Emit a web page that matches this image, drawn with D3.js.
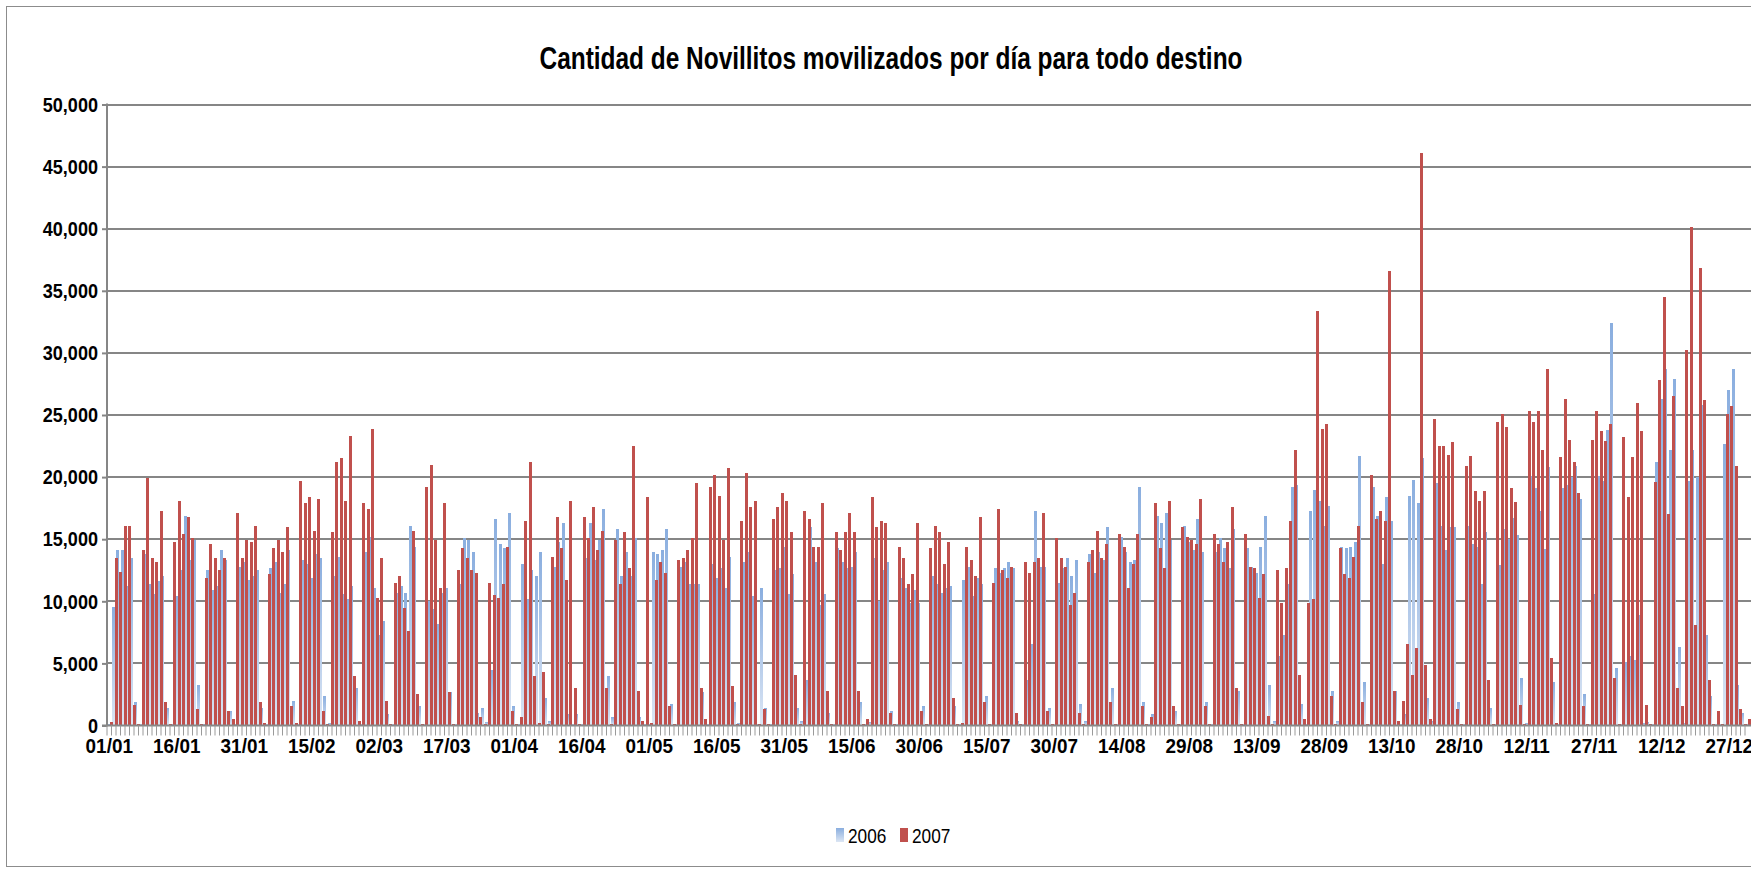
<!DOCTYPE html>
<html>
<head>
<meta charset="utf-8">
<script src="https://cdn.jsdelivr.net/npm/d3@7"></script>
<style>
  body { margin: 0; background: #fff; }
  svg { display: block; font-family: "Liberation Sans", Arial, sans-serif; }
</style>
</head>
<body>
<svg width="1751" height="871"></svg>
<script>
// etiquetas del eje X (una cada 15 dias)
const tickLabels = ["01/01","16/01","31/01","15/02","02/03","17/03","01/04","16/04","01/05","16/05",
  "31/05","15/06","30/06","15/07","30/07","14/08","29/08","13/09","28/09","13/10","28/10","12/11",
  "27/11","12/12","27/12"];
const yTicks = [0, 5000, 10000, 15000, 20000, 25000, 30000, 35000, 40000, 45000, 50000];
const seriesNames = ["2006", "2007"];

// cabezas por dia del año, una semana por linea
const v2006 = [
  100, 9550, 14100, 14100, 11200, 13500, 1900,
  150, 13800, 11400, 10600, 11600, 12000, 1400,
  100, 10400, 12500, 16900, 13300, 14900, 3300,
  100, 12500, 10900, 11200, 14100, 13300, 1200,
  150, 12800, 13150, 11700, 12000, 12500, 1400,
  150, 12700, 13150, 10700, 11400, 14100, 2000,
  150, 13300, 13000, 11900, 13800, 13500, 2400,
  200, 12000, 13600, 10600, 10200, 11200, 3000,
  150, 14000, 15200, 11100, 7300, 8400, 900,
  150, 10700, 11200, 10700, 16100, 14400, 1550,
  150, 10000, 9400, 8200, 10700, 11100, 2700,
  150, 11400, 15100, 14900, 14000, 1000, 1400,
  300, 4500, 16600, 14600, 14300, 17100, 1550,
  150, 13000, 10200, 12500, 12000, 14000, 2200,
  350, 12800, 14800, 16300, 900, 150, 900,
  150, 13500, 16300, 13300, 14900, 17400, 4000,
  650, 15800, 12000, 14000, 12000, 15100, 650,
  150, 150, 14000, 13800, 14100, 15800, 1700,
  150, 12800, 13150, 11400, 11400, 11400, 2700,
  150, 13000, 11900, 12700, 11100, 13600, 1900,
  200, 13150, 14000, 10400, 150, 11100, 1400,
  150, 12500, 12700, 14400, 10600, 12200, 1400,
  350, 3650, 16000, 13150, 9700, 10600, 1000,
  150, 14300, 13150, 12700, 12800, 14000, 1900,
  150, 300, 13500, 10000, 12500, 13150, 1200,
  150, 11900, 11100, 9900, 10900, 9900, 1550,
  150, 12000, 11400, 10700, 11100, 11200, 1550,
  150, 11700, 12800, 10400, 11900, 11400, 2400,
  150, 12700, 12300, 12700, 13150, 12700, 350,
  150, 3650, 6600, 17300, 12800, 12800, 1400,
  150, 11500, 12700, 13500, 12000, 13300, 1700,
  350, 13800, 12300, 14000, 13300, 16000, 3000,
  150, 15200, 14000, 13150, 13300, 19200, 1900,
  150, 900, 16900, 16300, 17100, 14900, 1200,
  150, 16100, 14800, 14100, 16600, 14000, 1900,
  150, 14000, 15100, 14300, 12700, 15800, 2800,
  150, 14300, 12800, 12300, 14400, 16900, 3300,
  350, 5600, 7300, 11400, 19200, 19400, 1700,
  150, 17300, 19000, 18100, 16100, 17700, 2800,
  350, 14400, 14300, 14400, 14800, 21700, 3500,
  150, 19200, 16900, 13000, 18400, 16500, 2800,
  150, 900, 18500, 19800, 17900, 21500, 2200,
  350, 19500, 16100, 14100, 16000, 16000, 1900,
  150, 16100, 14600, 14400, 11400, 15600, 1400,
  150, 12900, 15800, 15000, 16700, 15300, 3800,
  200, 20100, 19100, 17300, 14200, 20800, 3500,
  150, 19100, 19400, 20000, 20900, 18200, 2500,
  150, 10600, 20100, 19700, 23800, 32400, 4600,
  150, 5100, 5600, 5300, 8900, 200, 300,
  150, 21200, 26300, 28700, 22200, 27900, 6300,
  200, 19700, 22200, 20000, 25800, 7300, 2400,
  150, 150, 22700, 27000, 28700, 3300, 1000,
  150
];

const v2007 = [
  250, 13500, 12350, 16100, 16100, 1650, 150,
  14100, 19900, 13500, 13150, 17300, 1900, 150,
  14800, 18100, 15400, 16800, 15100, 1300, 150,
  11900, 14600, 13500, 12500, 13500, 1150, 500,
  17100, 13500, 14900, 14800, 16100, 1900, 200,
  12200, 14300, 14900, 14000, 16000, 1550, 200,
  19700, 17900, 18400, 15700, 18200, 1150, 150,
  15600, 21200, 21500, 18100, 23300, 4000, 350,
  17900, 17400, 23900, 10300, 13500, 2000, 150,
  11500, 12000, 9500, 7600, 15700, 2500, 150,
  19200, 21000, 14900, 11100, 17900, 2700, 150,
  12500, 14300, 13500, 12500, 12300, 650, 150,
  11500, 10500, 10300, 11400, 14400, 1150, 150,
  650, 16500, 21200, 4000, 200, 4300, 150,
  13600, 16800, 14300, 11700, 18100, 3000, 150,
  16800, 15100, 17600, 14100, 15700, 3000, 150,
  14900, 11400, 15600, 12700, 22500, 2800, 350,
  18400, 200, 11700, 13150, 12300, 1550, 150,
  13300, 13500, 14100, 15100, 19500, 3000, 500,
  19200, 20200, 18500, 14900, 20700, 3200, 150,
  16500, 20300, 17600, 18100, 150, 1300, 150,
  16600, 17600, 18700, 18100, 15600, 4100, 150,
  17300, 16600, 14400, 14400, 17900, 2800, 150,
  15600, 14100, 15600, 17100, 15600, 2800, 150,
  500, 18400, 16000, 16500, 16300, 1000, 150,
  14400, 13500, 11400, 12200, 16300, 1150, 150,
  14300, 16100, 15600, 13000, 14800, 2200, 150,
  200, 14400, 13300, 12000, 16800, 1900, 150,
  11500, 17400, 12500, 11900, 12800, 1000, 150,
  13150, 12300, 13150, 13500, 17100, 1150, 150,
  15100, 13500, 12800, 9700, 10700, 1000, 150,
  13150, 14100, 15700, 13500, 14600, 1900, 150,
  15400, 14400, 11100, 13000, 15400, 1550, 150,
  650, 17900, 14300, 12700, 18100, 1550, 150,
  16000, 15200, 14900, 14600, 18200, 1550, 150,
  15400, 14600, 13150, 14800, 17600, 3000, 150,
  15400, 12800, 12700, 10300, 12200, 800, 150,
  12500, 9900, 12700, 16500, 22200, 4100, 500,
  9900, 10200, 33400, 23900, 24300, 2400, 150,
  14300, 12200, 11900, 13600, 16100, 1900, 150,
  20200, 16600, 17300, 16500, 36600, 2800, 350,
  2000, 6600, 4100, 6200, 46100, 4900, 500,
  24700, 22500, 22500, 21800, 22800, 1300, 150,
  20900, 21700, 18900, 18100, 18900, 3700, 150,
  24400, 25100, 24000, 19100, 18000, 1650, 150,
  25300, 24400, 25300, 22200, 28700, 5400, 200,
  21600, 26300, 23000, 21200, 18700, 1600, 150,
  23000, 25300, 23700, 22900, 24300, 3800, 150,
  23200, 18400, 21600, 26000, 23700, 1650, 150,
  19600, 27800, 34500, 17000, 26500, 3000, 1600,
  30200, 40100, 8100, 36800, 26200, 3700, 150,
  1200, 100, 25100, 25700, 20900, 1300, 150,
  500
];

const svg = d3.select("svg");
const nDays = v2006.length;
const left = 107, dayW = 4.5;

const x = d3.scaleBand().domain(d3.range(nDays)).range([left, left + nDays * dayW]);
const y = d3.scaleLinear().domain([0, 50000]).range([725.5, 104.5]);
const color = d3.scaleOrdinal().domain(seriesNames).range(["url(#azul)", "#C0504D"]);

// degradado de las barras 2006
const defs = svg.append("defs");
const grad = defs.append("linearGradient").attr("id", "azul").attr("x1", 0).attr("y1", 0).attr("x2", 0).attr("y2", 1);
grad.append("stop").attr("offset", "0%").attr("stop-color", "#8AAEDF");
grad.append("stop").attr("offset", "100%").attr("stop-color", "#DCE6F4");

// texto estrecho (tipo Arial Narrow)
function narrow(sel, f) {
  sel.each(function() {
    const len = this.getComputedTextLength();
    d3.select(this).attr("textLength", len * f).attr("lengthAdjust", "spacingAndGlyphs");
  });
}

// marco exterior
svg.append("rect").attr("x", 6.5).attr("y", 6.5).attr("width", 1800).attr("height", 860)
  .attr("fill", "none").attr("stroke", "#8c8c8c").attr("stroke-width", 1);

svg.append("text")
  .attr("x", 891).attr("y", 69).attr("text-anchor", "middle")
  .attr("font-size", 32).attr("font-weight", "bold").attr("fill", "#000")
  .attr("textLength", 703).attr("lengthAdjust", "spacingAndGlyphs")
  .text("Cantidad de Novillitos movilizados por día para todo destino");

// lineas de division
svg.append("g").selectAll("line").data(yTicks.slice(1)).join("line")
  .attr("x1", left).attr("x2", 1751)
  .attr("y1", d => Math.round(y(d))).attr("y2", d => Math.round(y(d)))
  .attr("stroke", "#868686").attr("stroke-width", 2);

// barras
const groups = svg.append("g").selectAll("g")
  .data([v2006, v2007]).join("g")
  .attr("fill", (d, i) => color(seriesNames[i]))
  .attr("shape-rendering", "crispEdges");

groups.selectAll("rect")
  .data((vals, i) => vals.map((v, d) => ({ d, v, i })))
  .join("rect")
  .attr("x", p => x(p.d) + p.i * 3)
  .attr("width", 3)
  .attr("y", p => y(p.v))
  .attr("height", p => y(0) - y(p.v));

// eje Y
const yAxis = svg.append("g").attr("transform", `translate(${left},0)`)
  .call(d3.axisLeft(y).tickValues(yTicks).tickSize(5).tickPadding(4).tickFormat(d3.format(",")));
yAxis.select(".domain").attr("stroke", "#868686").attr("stroke-width", 2).attr("d", `M-5,${y(0)}H0V${y(50000) - 1}`);
yAxis.selectAll(".tick line").attr("stroke", "#868686").attr("stroke-width", 2);
yAxis.selectAll("text").attr("font-size", 21).attr("font-weight", "bold").attr("fill", "#000")
  .attr("font-family", "Liberation Sans, Arial, sans-serif").call(narrow, 0.86);

// eje X
const xAxis = svg.append("g").attr("transform", `translate(0,${y(0)})`)
  .call(d3.axisBottom(x).tickValues(x.domain()).tickSize(10)
    .tickFormat(d => d % 15 === 0 ? tickLabels[d / 15] : ""));
xAxis.select(".domain").attr("stroke", "#868686").attr("stroke-width", 2).attr("d", `M${left},0H1751`);
xAxis.selectAll(".tick line").attr("stroke", "#9a9a9a").attr("stroke-width", 1)
  .attr("transform", `translate(${-dayW / 2},0)`);
xAxis.selectAll("text").attr("y", 13).attr("font-size", 21).attr("font-weight", "bold").attr("fill", "#000")
  .attr("font-family", "Liberation Sans, Arial, sans-serif").call(narrow, 0.9);

// leyenda
const legend = svg.append("g").attr("transform", "translate(836,835)");
const item = legend.selectAll("g").data(seriesNames).join("g")
  .attr("transform", (d, i) => `translate(${i * 64},0)`);
item.append("rect").attr("x", 0).attr("y", -7).attr("width", 8).attr("height", 14)
  .attr("fill", d => color(d));
item.append("text").attr("x", 12).attr("y", 8).attr("font-size", 21).attr("fill", "#000")
  .text(d => d).call(narrow, 0.82);
</script>
</body>
</html>
